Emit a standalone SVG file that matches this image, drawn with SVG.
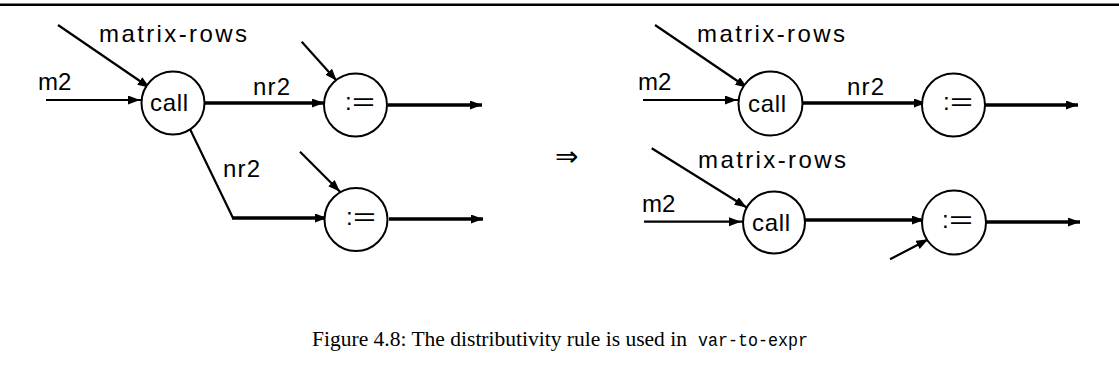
<svg xmlns="http://www.w3.org/2000/svg" width="1119" height="382" viewBox="0 0 1119 382">
<style>
.node{fill:#fff;stroke:#000;stroke-width:2}
.lbl{font-family:"Liberation Sans",Arial,sans-serif;font-size:24px;fill:#000}
.thin{fill:none;stroke:#000;stroke-width:2.2}
.thick{fill:none;stroke:#000;stroke-width:3.3}
.cap{font-family:"Liberation Serif",serif;font-size:21.5px;fill:#000}
.mono{font-family:"Liberation Mono",monospace;font-size:17.5px;fill:#000}
</style>
<defs>
<marker id="ah" markerUnits="userSpaceOnUse" markerWidth="14" markerHeight="10" viewBox="0 0 14 10" refX="12" refY="4.5" orient="auto">
<path d="M0,0 L12,4.5 L0,9 z" fill="#000"/>
</marker>
<marker id="ahi" markerUnits="userSpaceOnUse" markerWidth="18" markerHeight="10" viewBox="0 0 18 10" refX="16" refY="4.5" orient="auto">
<path d="M0,0 L12,4.5 L0,9 z" fill="#000"/>
</marker>
</defs>
<rect width="1119" height="382" fill="#fff"/>
<line x1="0" y1="4.7" x2="1119" y2="4.7" stroke="#000" stroke-width="2.5"/>

<g id="connectors">
<!-- left diagram -->
<line class="thin" x1="58" y1="25" x2="153" y2="90" marker-end="url(#ahi)"/>
<line class="thin" x1="46" y1="100" x2="144" y2="100" marker-end="url(#ahi)"/>
<line class="thick" x1="205" y1="103" x2="328" y2="103" marker-end="url(#ahi)"/>
<line class="thin" x1="301.7" y1="41.7" x2="339.4" y2="83.7" marker-end="url(#ahi)"/>
<line class="thick" x1="388" y1="105" x2="482" y2="105" marker-end="url(#ah)"/>
<line class="thin" x1="188" y1="125" x2="233" y2="218"/>
<line class="thick" x1="232" y1="218" x2="331" y2="218" marker-end="url(#ahi)"/>
<line class="thin" x1="300" y1="151.7" x2="342.8" y2="194.5" marker-end="url(#ahi)"/>
<line class="thick" x1="389" y1="219" x2="483" y2="219" marker-end="url(#ah)"/>
<!-- right diagram top -->
<line class="thin" x1="655" y1="25" x2="750.7" y2="90" marker-end="url(#ahi)"/>
<line class="thin" x1="643" y1="100" x2="741" y2="100" marker-end="url(#ahi)"/>
<line class="thick" x1="803" y1="103" x2="930" y2="103" marker-end="url(#ahi)"/>
<line class="thick" x1="985" y1="105" x2="1078" y2="105" marker-end="url(#ah)"/>
<!-- right diagram bottom -->
<line class="thin" x1="651.7" y1="148.3" x2="750" y2="209.5" marker-end="url(#ahi)"/>
<line class="thin" x1="644" y1="221.7" x2="745" y2="221.7" marker-end="url(#ahi)"/>
<line class="thick" x1="805" y1="220" x2="928" y2="220" marker-end="url(#ahi)"/>
<line class="thick" x1="986" y1="222" x2="1080" y2="222" marker-end="url(#ah)"/>
<line class="thin" x1="890" y1="259.3" x2="931.8" y2="237.5" marker-end="url(#ahi)"/>
</g>

<g id="edge-labels">
<text class="lbl" x="99" y="42" textLength="148" lengthAdjust="spacing">matrix-rows</text>
<text class="lbl" x="38" y="90">m2</text>
<text class="lbl" x="253" y="95" textLength="37" lengthAdjust="spacing">nr2</text>
<text class="lbl" x="223" y="177" textLength="37" lengthAdjust="spacing">nr2</text>
<text class="lbl" x="697" y="42" textLength="148" lengthAdjust="spacing">matrix-rows</text>
<text class="lbl" x="638" y="90">m2</text>
<text class="lbl" x="847" y="95" textLength="37" lengthAdjust="spacing">nr2</text>
<text class="lbl" x="698" y="168" textLength="148" lengthAdjust="spacing">matrix-rows</text>
<text class="lbl" x="642" y="212">m2</text>
</g>

<g id="call-L">
<circle class="node" cx="173" cy="103" r="31.5"/>
<text class="lbl" x="150" y="111" textLength="38" lengthAdjust="spacing">call</text>
</g>
<g id="assign-L1">
<circle class="node" cx="355.5" cy="105" r="31.5"/>
<text class="lbl" x="345" y="110">:<tspan x="352" textLength="23" lengthAdjust="spacingAndGlyphs">=</tspan></text>
</g>
<g id="assign-L2">
<circle class="node" cx="356" cy="219.5" r="31.5"/>
<text class="lbl" x="346" y="225">:<tspan x="353" textLength="23" lengthAdjust="spacingAndGlyphs">=</tspan></text>
</g>
<g id="call-R1">
<circle class="node" cx="770.5" cy="103.5" r="32"/>
<text class="lbl" x="748" y="112" textLength="38" lengthAdjust="spacing">call</text>
</g>
<g id="assign-R1">
<circle class="node" cx="953.5" cy="105" r="31.5"/>
<text class="lbl" x="943" y="110">:<tspan x="950" textLength="23" lengthAdjust="spacingAndGlyphs">=</tspan></text>
</g>
<g id="call-R2">
<circle class="node" cx="774" cy="222.5" r="31"/>
<text class="lbl" x="752" y="231" textLength="38" lengthAdjust="spacing">call</text>
</g>
<g id="assign-R2">
<circle class="node" cx="954" cy="222.5" r="32"/>
<text class="lbl" x="942" y="228">:<tspan x="949" textLength="24" lengthAdjust="spacingAndGlyphs">=</tspan></text>
</g>

<text x="555" y="166" font-family="DejaVu Sans, sans-serif" font-size="28">⇒</text>

<g id="caption">
<text class="cap" x="312" y="346" textLength="375" lengthAdjust="spacingAndGlyphs">Figure 4.8: The distributivity rule is used in</text>
<text class="mono" x="698" y="346" textLength="110" lengthAdjust="spacingAndGlyphs">var-to-expr</text>
</g>
</svg>
